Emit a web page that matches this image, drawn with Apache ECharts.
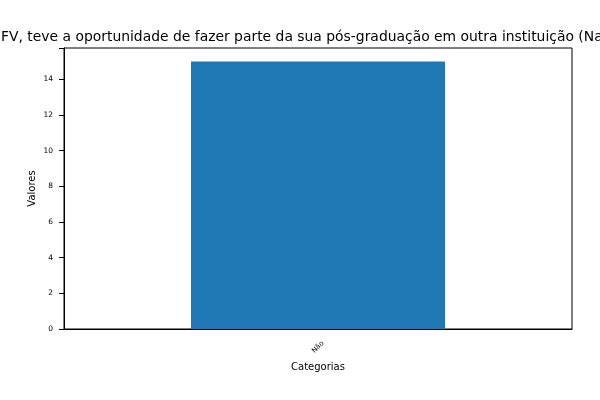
<!DOCTYPE html>
<html>
<head>
<meta charset="utf-8">
<script src="https://cdn.jsdelivr.net/npm/echarts@6/dist/echarts.min.js"></script>
<style>
  html, body { margin: 0; padding: 0; background: #fff; }
  #chart { width: 600px; height: 400px; }
</style>
</head>
<body>
<div id="chart"></div>
<script>
const categories = ['Não']
const values = [15]
const yTicks = [0, 2, 4, 6, 8, 10, 12, 14]
const chartTitle = 'FV, teve a oportunidade de fazer parte da sua pós-graduação em outra instituição (Na'

const chart = echarts.init(document.getElementById('chart'))
const font = 'DejaVu Sans'
const option = {
  animation: false,
  title: {
    text: chartTitle,
    left: -4,
    top: 25,
    textStyle: { fontFamily: font, fontSize: 13.9, fontWeight: 'normal', color: '#000' }
  },
  grid: {
    left: 64,
    right: 28,
    top: 48,
    bottom: 71,
    show: true,
    borderColor: '#000',
    borderWidth: 1
  },
  xAxis: {
    type: 'category',
    data: categories,
    name: 'Categorias',
    nameLocation: 'middle',
    nameGap: 33,
    nameMoveOverlap: false,
    nameTextStyle: { fontFamily: font, fontSize: 10, color: '#000' },
    axisLine: { lineStyle: { color: '#000' } },
    axisTick: { alignWithLabel: true, length: 4, lineStyle: { color: '#000' } },
    axisLabel: {
      rotate: 45, align: 'center', verticalAlign: 'middle',
      fontFamily: font, fontSize: 7, color: '#000', margin: 18
    }
  },
  yAxis: {
    type: 'value',
    min: 0,
    max: 15.75,
    interval: 2,
    name: 'Valores',
    nameLocation: 'middle',
    nameGap: 27,
    nameMoveOverlap: false,
    nameTextStyle: { fontFamily: font, fontSize: 10, color: '#000' },
    axisLine: { show: true, lineStyle: { color: '#000' } },
    axisTick: { show: true, length: 5, lineStyle: { color: '#000' } },
    splitLine: { show: false },
    axisLabel: {
      fontFamily: font, fontSize: 7.5, color: '#000', margin: 11,
      formatter: v => (yTicks.includes(v) ? String(v) : '')
    }
  },
  series: [{
    type: 'bar',
    data: values,
    barWidth: '50%',
    itemStyle: { color: '#1f77b4' }
  }]
}
chart.setOption(option)
</script>
</body>
</html>
